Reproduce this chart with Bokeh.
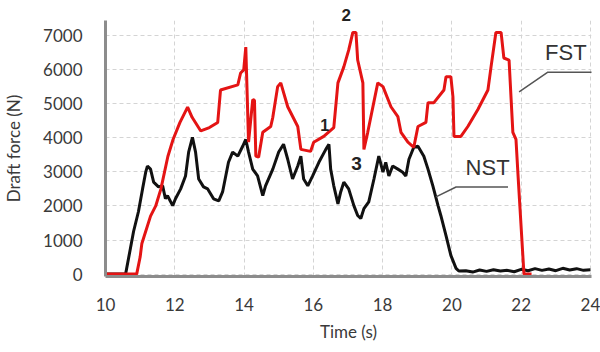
from bokeh.plotting import figure
from bokeh.models import Range1d, FixedTicker, Label, Title
from bokeh.embed import file_html
from bokeh.resources import INLINE

# Time (s) and draft force (N)
fst_t = [10.0, 10.9, 11.0, 11.05, 11.3, 11.45, 11.6, 11.8, 11.95, 12.15, 12.37, 12.5, 12.75, 13.0,
         13.24, 13.32, 13.82, 13.90, 13.99, 14.05, 14.13, 14.25, 14.30, 14.34, 14.42, 14.54, 14.77,
         14.83, 14.97, 15.06, 15.26, 15.55, 15.64, 15.92, 16.01, 16.30, 16.59, 16.71, 16.88, 17.02,
         17.14, 17.23, 17.28, 17.43, 17.46, 17.57, 17.86, 18.01, 18.24, 18.44, 18.53, 18.73, 18.90,
         19.02, 19.25, 19.31, 19.48, 19.77, 19.83, 19.97, 20.03, 20.06, 20.26, 20.46, 20.75, 21.04,
         21.13, 21.27, 21.42, 21.50, 21.65, 21.71, 21.76, 21.85, 21.91, 22.08, 22.3]
fst_v = [0, 0, 500, 900, 1700, 2000, 2500, 3450, 3950, 4450, 4900, 4600, 4200, 4300,
         4450, 5400, 5550, 5900, 5990, 6660, 3870, 5120, 5100, 3460, 3430, 4160, 4330,
         4600, 5500, 5610, 4910, 4330, 3660, 3600, 3870, 4040, 4300, 5610, 6080, 6570,
         7090, 7090, 6280, 5610, 3660, 4160, 5610, 5500, 4910, 4620, 4160, 3870, 3720,
         4330, 4450, 5030, 5030, 5400, 5790, 5790, 5200, 4040, 4040, 4330, 4830, 5400,
         6080, 7090, 7090, 6340, 6280, 5120, 4160, 3950, 2880, 0, 0]

nst_t = [10.0, 10.58, 10.72, 10.81, 10.95, 11.07, 11.16, 11.21, 11.30, 11.39, 11.53, 11.65, 11.73,
         11.79, 11.94, 12.02, 12.17, 12.31, 12.40, 12.51, 12.60, 12.69, 12.83, 12.95, 13.12, 13.27,
         13.38, 13.55, 13.67, 13.82, 13.96, 14.05, 14.13, 14.25, 14.39, 14.54, 14.62, 14.83, 15.00,
         15.14, 15.26, 15.40, 15.55, 15.64, 15.72, 15.84, 15.98, 16.16, 16.36, 16.45, 16.50, 16.59,
         16.71, 16.79, 16.88, 17.02, 17.17, 17.28, 17.37, 17.46, 17.60, 17.75, 17.89, 18.01, 18.09,
         18.18, 18.29, 18.44, 18.58, 18.67, 18.76, 18.90, 19.02, 19.19, 19.31, 19.45, 19.60, 19.68,
         19.83, 19.97, 20.12, 20.20, 20.4, 20.6, 20.8, 21.0, 21.2, 21.4, 21.6, 21.8, 22.0, 22.2,
         22.4, 22.6, 22.8, 23.0, 23.2, 23.4, 23.6, 23.8, 24.0]
nst_v = [0, 0, 760, 1250, 1830, 2500, 2990, 3170, 3080, 2700, 2560, 2590, 2210,
         2300, 2010, 2210, 2500, 2880, 3580, 4010, 3580, 2790, 2560, 2500, 2210, 2150,
         2410, 3280, 3580, 3460, 3750, 3950, 3580, 3080, 2880, 2300, 2590, 3080, 3580,
         3810, 3370, 2790, 3170, 3460, 2790, 2590, 2880, 3280, 3660, 3810, 3080, 2590,
         2060, 2410, 2700, 2500, 2010, 1720, 1630, 1920, 2120, 2790, 3460, 2990, 3280,
         2880, 3170, 3080, 2990, 2880, 3370, 3720, 3750, 3460, 3080, 2590, 2010, 1720,
         1130, 550, 170, 90, 100, 60, 120, 80, 130, 90, 110, 70, 140, 100,
         160, 110, 150, 100, 170, 120, 160, 110, 130]

x_ticks = [10, 12, 14, 16, 18, 20, 22, 24]
y_ticks = [0, 1000, 2000, 3000, 4000, 5000, 6000, 7000]

# annotation texts and anchor points (data units)
top_mark = "2"
marks = ["1", "3"]
marks_t = [16.33, 17.25]
marks_v = [4386, 3238]
series_names = ["FST", "NST"]
names_t = [23.29, 21.03]
names_v = [6491, 3122]
fst_lead_t = [21.94, 22.77, 24.3]
fst_lead_v = [5344, 5925, 5925]
nst_lead_t = [19.54, 20.12, 21.62]
nst_lead_v = [2265, 2556, 2556]

p = figure(width=600, height=352, output_backend="svg", toolbar_location=None,
           x_range=Range1d(10, 24.03), y_range=Range1d(-70, 7440),
           min_border_left=105, min_border_right=9, min_border_top=20, min_border_bottom=76)
p.outline_line_color = None
p.background_fill_color = "white"
p.border_fill_color = "white"

for ax in (p.xaxis[0], p.yaxis[0]):
    ax.axis_line_color = "#8c8c8c"
    ax.axis_line_width = 3
    ax.major_tick_line_color = None
    ax.minor_tick_line_color = None
    ax.major_tick_out = 0
    ax.major_tick_in = 0
    ax.minor_tick_out = 0
    ax.minor_tick_in = 0
    ax.major_label_text_font = "Lato"
    ax.major_label_text_font_size = "17px"
    ax.major_label_text_color = "#3a3a3a"
    ax.axis_label_text_font = "Lato"
    ax.axis_label_text_font_size = "17px"
    ax.axis_label_text_font_style = "normal"
    ax.axis_label_text_color = "#3a3a3a"

p.xaxis.ticker = FixedTicker(ticks=x_ticks)
p.yaxis.ticker = FixedTicker(ticks=y_ticks)
p.xaxis.major_label_standoff = 21
p.yaxis.major_label_standoff = 23
p.xaxis.axis_label = "Time (s)"
p.yaxis.axis_label = "Draft force (N)"
p.xaxis.axis_label_standoff = 7
p.yaxis.axis_label_standoff = 16

for g in (p.xgrid[0], p.ygrid[0]):
    g.grid_line_color = "#d4d4d4"
    g.grid_line_dash = "4 3"
    g.grid_line_width = 1

p.line(nst_t, nst_v, line_color="#111111", line_width=3)
p.line(fst_t, fst_v, line_color="#e41414", line_width=3)

p.line(fst_lead_t, fst_lead_v, line_color="#555555", line_width=1.5)
p.line(nst_lead_t, nst_lead_v, line_color="#555555", line_width=1.5)

# the "2" mark sits above the plot frame, so it is drawn as a title text
p.add_layout(Title(text=top_mark, align="left", offset=236, standoff=0,
                   text_font="Liberation Sans", text_font_style="bold",
                   text_font_size="17px", text_color="#222222"), "above")

sizes = ["16px", "19px"]
for m, t, v, s in zip(marks, marks_t, marks_v, sizes):
    p.add_layout(Label(x=t, y=v, text=m, text_align="center", text_baseline="middle",
                       text_font="Liberation Sans", text_font_style="bold",
                       text_font_size=s, text_color="#222222"))
for m, t, v in zip(series_names, names_t, names_v):
    p.add_layout(Label(x=t, y=v, text=m, text_align="center", text_baseline="middle",
                       text_font="Liberation Sans", text_font_size="22px", text_color="#333333"))

open("out.html", "w").write(file_html(p, INLINE))
